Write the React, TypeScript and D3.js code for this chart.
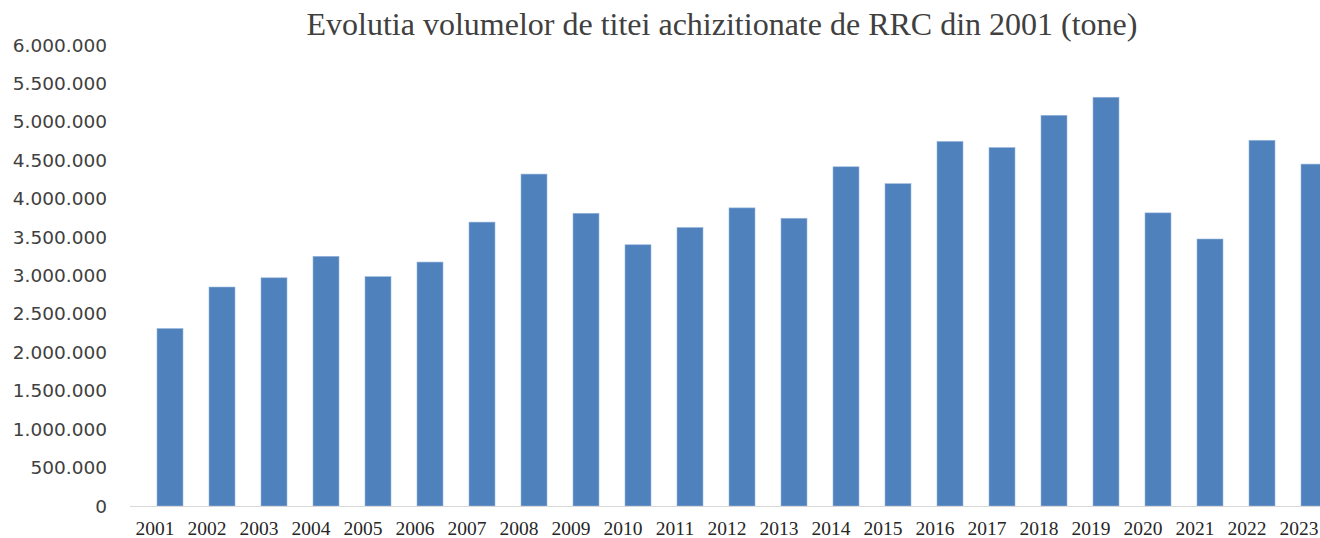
import React, { useEffect, useRef } from "react";
import * as d3 from "d3";

const years = [
  "2001", "2002", "2003", "2004", "2005", "2006", "2007", "2008", "2009", "2010", "2011", "2012",
  "2013", "2014", "2015", "2016", "2017", "2018", "2019", "2020", "2021", "2022", "2023",
];
const volumes = [
  2310000, 2850000, 2970000, 3250000, 2985000, 3175000, 3695000, 4320000, 3810000, 3400000,
  3625000, 3880000, 3745000, 4415000, 4195000, 4745000, 4665000, 5085000, 5320000, 3815000,
  3475000, 4760000, 4450000,
];
const yTicks = [0, 500000, 1000000, 1500000, 2000000, 2500000, 3000000, 3500000, 4000000, 4500000, 5000000, 5500000, 6000000];
const title = "Evolutia volumelor de titei achizitionate de RRC din 2001 (tone)";

const W = 1320;
const H = 538;

const App = () => {
  const ref = useRef<SVGGElement>(null);

  useEffect(() => {
    const g = d3.select(ref.current);
    g.selectAll("*").remove();

    const x = d3.scaleBand<string>().domain(years).range([144, 1340]).paddingInner(0.5).paddingOuter(0.25);
    const y = d3.scaleLinear().domain([0, 6000000]).range([506, 45]);
    const fmt = d3.formatLocale({ decimal: ",", thousands: ".", grouping: [3], currency: ["", ""] }).format(",d");

    g.append("text")
      .attr("x", 722)
      .attr("y", 35)
      .attr("text-anchor", "middle")
      .attr("font-family", "'Liberation Serif', 'Times New Roman', serif")
      .attr("font-size", 32)
      .attr("fill", "#404040")
      .text(title);

    g.selectAll("text.ytick")
      .data(yTicks)
      .enter()
      .append("text")
      .attr("class", "ytick")
      .attr("x", 107)
      .attr("y", d => y(d) + 6.5)
      .attr("text-anchor", "end")
      .attr("font-family", "'DejaVu Sans', sans-serif")
      .attr("font-size", 18.5)
      .attr("fill", "#404040")
      .text(d => fmt(d));

    g.selectAll("rect.bar")
      .data(volumes)
      .enter()
      .append("rect")
      .attr("class", "bar")
      .attr("x", (d, i) => x(years[i])!)
      .attr("y", d => y(d))
      .attr("width", x.bandwidth())
      .attr("height", d => y(0) - y(d))
      .attr("fill", "#4F81BD")
      .attr("stroke", "#9bb7dc")
      .attr("stroke-width", 0.6);

    g.append("line")
      .attr("x1", 130)
      .attr("x2", W)
      .attr("y1", y(0) + 0.5)
      .attr("y2", y(0) + 0.5)
      .attr("stroke", "#d9d9d9")
      .attr("stroke-width", 1.2);

    g.selectAll("text.xtick")
      .data(years)
      .enter()
      .append("text")
      .attr("class", "xtick")
      .attr("x", d => x(d)! + x.bandwidth() / 2 - 15)
      .attr("y", 535)
      .attr("text-anchor", "middle")
      .attr("font-family", "'Liberation Serif', 'Times New Roman', serif")
      .attr("font-size", 19.5)
      .attr("fill", "#262626")
      .text(d => d);
  }, []);

  return (
    <svg width={W} height={H} style={{ position: "absolute", left: 0, top: 0, background: "#fff" }}>
      <g ref={ref} />
    </svg>
  );
};

export default App;
